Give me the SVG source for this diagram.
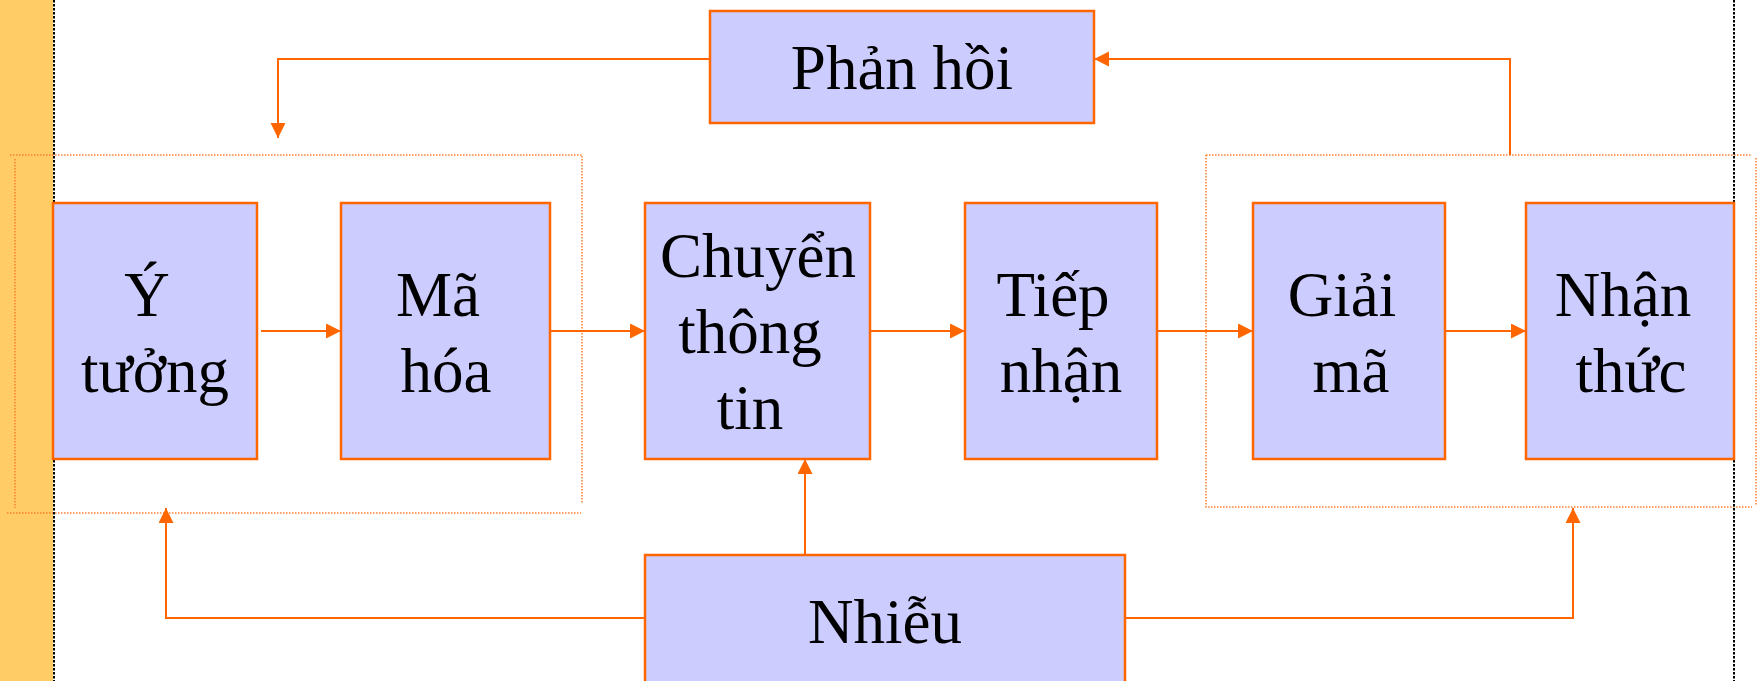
<svg xmlns="http://www.w3.org/2000/svg" width="1760" height="681" viewBox="0 0 1760 681">
  <style>
    .box { fill: #CCCCFF; stroke: #FF6600; stroke-width: 2.5; }
    .lbl { font-family: "Liberation Serif", "Times New Roman", serif; font-size: 63px; fill: #000000; text-anchor: middle; }
    .link { fill: none; stroke: #FF6600; stroke-width: 2; }
    .frame { fill: none; stroke: #FF7F2A; stroke-width: 1.5; stroke-dasharray: 1.5 1.5; }
    .edge { fill: none; stroke: #000000; stroke-width: 2; stroke-dasharray: 2.5 1.5; }
  </style>
  <defs>
    <marker id="arrow" markerUnits="userSpaceOnUse" markerWidth="16" markerHeight="16" refX="15" refY="7.5" orient="auto">
      <path d="M0,0 L15,7.5 L0,15 Z" fill="#FF6600"/>
    </marker>
  </defs>

  <!-- page background and side band -->
  <rect x="0" y="0" width="1760" height="681" fill="#FFFFFF"/>
  <rect x="0" y="0" width="53" height="681" fill="#FFCC66"/>

  <!-- dotted grouping frames -->
  <g id="frames">
    <path class="frame" d="M10,155 H582 V503"/>
    <path class="frame" d="M15,159 V508"/>
    <path class="frame" d="M7,513 H581"/>
    <path class="frame" d="M1206,155 H1752"/>
    <path class="frame" d="M1206,155 V507 H1752"/>
    <path class="frame" d="M1756,158 V505"/>
  </g>

  <!-- page margin guides -->
  <line class="edge" x1="54" y1="0" x2="54" y2="681"/>
  <line class="edge" x1="1734" y1="0" x2="1734" y2="681"/>

  <!-- connectors -->
  <g id="connectors">
    <path class="link" d="M261,331 H341" marker-end="url(#arrow)"/>
    <path class="link" d="M550,331 H645" marker-end="url(#arrow)"/>
    <path class="link" d="M870,331 H965" marker-end="url(#arrow)"/>
    <path class="link" d="M1157,331 H1253" marker-end="url(#arrow)"/>
    <path class="link" d="M1445,331 H1526" marker-end="url(#arrow)"/>
    <path class="link" d="M710,59 H278 V138" marker-end="url(#arrow)"/>
    <path class="link" d="M1510,155 V59 H1094" marker-end="url(#arrow)"/>
    <path class="link" d="M805,555 V459" marker-end="url(#arrow)"/>
    <path class="link" d="M645,618 H166 V508" marker-end="url(#arrow)"/>
    <path class="link" d="M1125,618 H1573 V508" marker-end="url(#arrow)"/>
  </g>

  <g id="y-tuong">
    <rect class="box" x="53" y="203" width="204" height="256"/>
    <text class="lbl" x="147" y="316">Ý</text>
    <text class="lbl" x="155" y="392">tưởng</text>
  </g>

  <g id="ma-hoa">
    <rect class="box" x="341" y="203" width="209" height="256"/>
    <text class="lbl" x="438" y="316">Mã</text>
    <text class="lbl" x="446" y="392">hóa</text>
  </g>

  <g id="chuyen-thong-tin">
    <rect class="box" x="645" y="203" width="225" height="256"/>
    <text class="lbl" x="758" y="277">Chuyển</text>
    <text class="lbl" x="750" y="353">thông</text>
    <text class="lbl" x="750" y="429">tin</text>
  </g>

  <g id="tiep-nhan">
    <rect class="box" x="965" y="203" width="192" height="256"/>
    <text class="lbl" x="1053" y="316">Tiếp</text>
    <text class="lbl" x="1061" y="392">nhận</text>
  </g>

  <g id="giai-ma">
    <rect class="box" x="1253" y="203" width="192" height="256"/>
    <text class="lbl" x="1342" y="316">Giải</text>
    <text class="lbl" x="1351" y="392">mã</text>
  </g>

  <g id="nhan-thuc">
    <rect class="box" x="1526" y="203" width="208" height="256"/>
    <text class="lbl" x="1623" y="316">Nhận</text>
    <text class="lbl" x="1631" y="392">thức</text>
  </g>

  <g id="phan-hoi">
    <rect class="box" x="710" y="11" width="384" height="112"/>
    <text class="lbl" x="902" y="89">Phản hồi</text>
  </g>

  <g id="nhieu">
    <rect class="box" x="645" y="555" width="480" height="140"/>
    <text class="lbl" x="885" y="643">Nhiễu</text>
  </g>
</svg>
